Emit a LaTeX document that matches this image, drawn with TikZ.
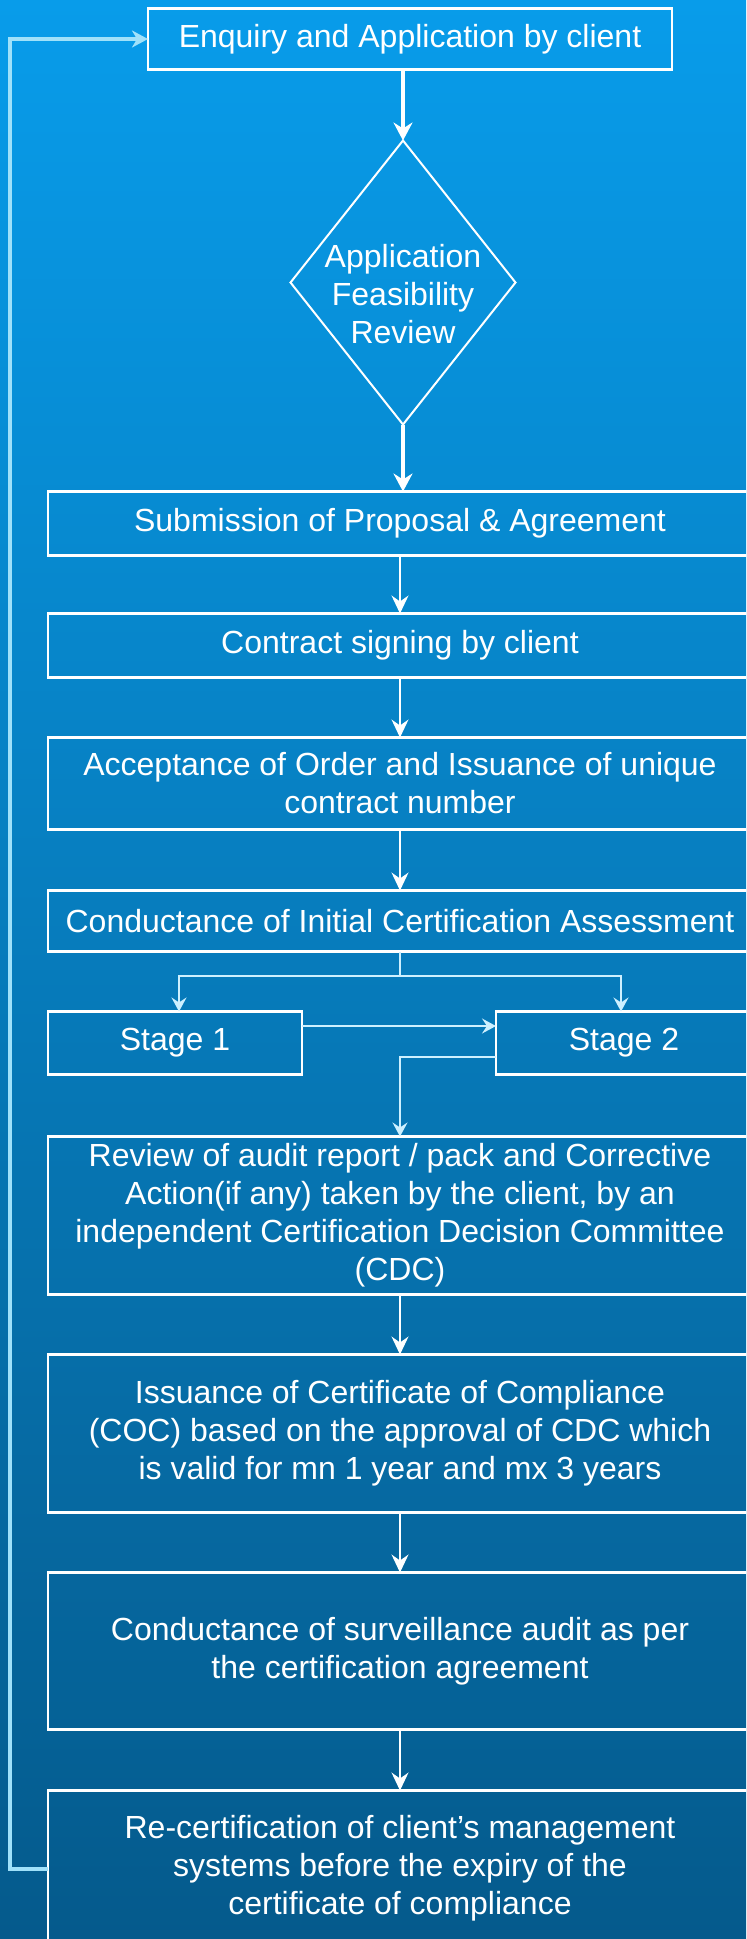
\documentclass[tikz,border=0pt]{standalone}
\usepackage{fontspec}
\setmainfont{Liberation Sans}
\usepackage{xcolor}
\usepackage{tikz}
\usetikzlibrary{arrows.meta,positioning,shapes.geometric}

\definecolor{skytop}{RGB}{8,156,234}
\definecolor{skybottom}{RGB}{5,90,140}
\definecolor{loopcyan}{RGB}{160,225,250}
\definecolor{paleline}{RGB}{205,240,255}

\begin{document}
\begin{tikzpicture}
      [ x=0.5pt, y=-0.5pt,
        every node/.style={text=white, align=center, font=\fontsize{16}{19}\selectfont},
        stepbox/.style={draw=white, line width=1.25pt, outer sep=0pt, minimum width=352pt},
        choice/.style={diamond, draw=white, line width=1pt, outer sep=0pt, inner sep=0pt,
                       minimum width=112.5pt, minimum height=142pt},
        flow/.style={color=white, line width=0.75pt, -{Stealth[length=9pt,width=8.5pt,inset=3pt]}},
        flow bold/.style={color=white, line width=2pt, -{Stealth[length=9pt,width=9.5pt,inset=3pt]}},
        branchline/.style={color=paleline, line width=1.4pt, -{Stealth[length=7pt,width=7.5pt,inset=2.5pt]}},
        return line/.style={color=loopcyan, line width=2pt, -{Stealth[length=8pt,width=8.5pt,inset=2.5pt]}}
      ]
      \path[use as bounding box] (0,0) rectangle (746,1939);
      \clip (0,0) rectangle (746,1939);
      \shade[top color=skytop, bottom color=skybottom] (0,0) rectangle (746,1939);

      \node[stepbox, minimum width=262pt, minimum height=30.5pt]  (enquiry)  at (410,39)  {Enquiry and Application by client};
      \node[choice, label={[yshift=-6pt]center:Application\\Feasibility\\Review}]
                                                     (feasible) [below=35.5pt of enquiry, xshift=-3.5pt] {};
      \node[stepbox, minimum height=32pt]   (proposal) [below=33.5pt of feasible, xshift=-1.5pt] {Submission of Proposal \& Agreement};
      \node[stepbox, minimum height=32pt]   (contract) [below=29pt of proposal]     {Contract signing by client};
      \node[stepbox, minimum height=46pt]   (order)    [below=30pt of contract]     {Acceptance of Order and Issuance of unique\\contract number};
      \node[stepbox, minimum height=30.5pt] (initial)  [below=30.5pt of order]      {Conductance of Initial Certification Assessment};
      \node[stepbox, minimum width=127pt, minimum height=31.5pt]
                                            (stage1)   [below right=30pt and 0pt of initial.south west] {Stage 1};
      \node[stepbox, minimum width=128pt, minimum height=31.5pt]
                                            (stage2)   [below left=30pt and 0pt of initial.south east]  {Stage 2};
      \node[stepbox, minimum height=79pt]   (review)   [below=92.5pt of initial]
            {Review of audit report / pack and Corrective\\Action(if any) taken by the client, by an\\independent Certification Decision Committee\\(CDC)};
      \node[stepbox, minimum height=79pt]   (coc)      [below=30pt of review]
            {Issuance of Certificate of Compliance\\(COC) based on the approval of CDC which\\is valid for mn 1 year and mx 3 years};
      \node[stepbox, minimum height=78.5pt] (surveil)  [below=30pt of coc]
            {Conductance of surveillance audit as per\\the certification agreement};
      \node[stepbox, minimum height=78pt]   (recert)   [below=30.5pt of surveil]
            {Re-certification of client’s management\\systems before the expiry of the\\certificate of compliance};
      \coordinate (forkpoint) at ([yshift=-12.25pt]initial.south);

      \draw[flow bold] (enquiry.south -| feasible.north) -- (feasible.north);
      \draw[flow bold] (feasible.south) -- (feasible.south |- proposal.north);
      \path[flow] (proposal) edge (contract)
                  (contract) edge (order)
                  (order)    edge (initial);
      \draw[branchline, -] (initial.south) -- (forkpoint);
      \draw[branchline] (forkpoint) -| ([xshift=2pt]stage1.north);
      \draw[branchline] (forkpoint) -| ([xshift=-1.5pt]stage2.north);
      \draw[branchline] ([yshift=-7.25pt]stage1.north east) -- ([yshift=-7.25pt]stage2.north west);
      \draw[branchline] ([yshift=8.75pt]stage2.south west) -| (review.north);
      \path[flow] (review)  edge (coc)
                  (coc)     edge (surveil)
                  (surveil) edge (recert);
      \draw[return line] (recert.west) -- ++(-19pt,0) |- (enquiry.west);
\end{tikzpicture}
\end{document}
